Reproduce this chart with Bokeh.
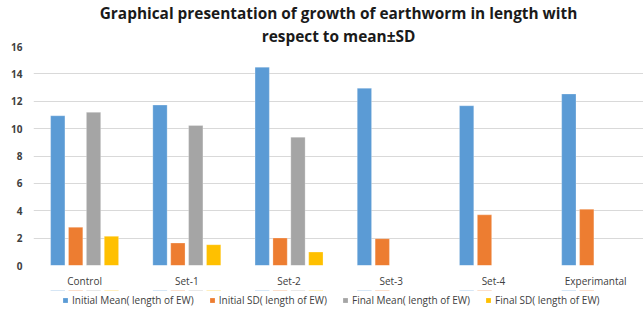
from bokeh.plotting import figure
from bokeh.layouts import column
from bokeh.models import ColumnDataSource, Legend, LegendItem, SingleIntervalTicker, FixedTicker, Title
from bokeh.transform import dodge
from bokeh.embed import file_html
from bokeh.resources import INLINE

categories = ["Control", "Set-1", "Set-2", "Set-3", "Set-4", "Experimantal"]
initial_mean = [10.94, 11.72, 14.49, 12.95, 11.67, 12.53]
initial_sd = [2.79, 1.64, 2.01, 1.96, 3.70, 4.11]
final_mean = [11.19, 10.23, 9.37, float("nan"), float("nan"), float("nan")]
final_sd = [2.13, 1.52, 0.98, float("nan"), float("nan"), float("nan")]
series_names = ["Initial Mean( length of EW)", "Initial SD( length of EW)",
                "Final Mean( length of EW)", "Final SD( length of EW)"]
colors = ["#5B9BD5", "#ED7D31", "#A5A5A5", "#FFC000"]
title_lines = ["Graphical presentation of growth of earthworm in length with",
               "respect to mean±SD"]

idx = list(range(len(categories)))
src = ColumnDataSource(dict(x=idx, cat=categories, im=initial_mean, isd=initial_sd,
                            fm=final_mean, fsd=final_sd))

FONT = "Open Sans"
p = figure(width=643, height=290, x_range=(-0.5, 5.468), y_range=(0, 16),
           output_backend="svg", toolbar_location=None,
           min_border_left=33, min_border_right=0, min_border_top=0, min_border_bottom=24)
p.title = None
for i, line in enumerate(reversed(title_lines)):
    t = Title(text=line, align="center", text_font=FONT, text_font_size="15.4px",
              text_font_style="bold", text_color="#1a1a1a", standoff=0)
    p.add_layout(t, "above")

p.outline_line_color = None

cols = ["im", "isd", "fm", "fsd"]
offsets = [-0.2625, -0.0875, 0.0875, 0.2625]
for c, off, col in zip(cols, offsets, colors):
    p.vbar(x=dodge("x", off), top=c, width=0.14, source=src,
           fill_color=col, line_color="white", line_alpha=0.5, line_width=0.5)

p.yaxis.ticker = SingleIntervalTicker(interval=2)
p.yaxis.axis_line_color = None
p.yaxis.major_tick_line_color = None
p.yaxis.minor_tick_line_color = None
p.yaxis.major_tick_out = 0
p.yaxis.major_tick_in = 0
p.yaxis.major_label_text_font = FONT
p.yaxis.major_label_text_font_size = "10px"
p.yaxis.major_label_text_font_style = "bold"
p.yaxis.major_label_text_color = "#404040"
p.yaxis.major_label_standoff = 7

p.xaxis.ticker = FixedTicker(ticks=idx)
p.xaxis.major_label_overrides = {i: c for i, c in zip(idx, categories)}
p.xaxis.axis_line_color = None
p.xaxis.major_tick_line_color = None
p.xaxis.minor_tick_line_color = None
p.xaxis.major_tick_out = 0
p.xaxis.major_tick_in = 0
p.xaxis.major_label_text_font = FONT
p.xaxis.major_label_text_font_size = "10px"
p.xaxis.major_label_text_color = "#404040"
p.xaxis.major_label_standoff = 8

p.xgrid.grid_line_color = None
p.ygrid.grid_line_color = "#D9D9D9"
p.ygrid.grid_line_width = 1.2

# legend strip below the chart (its bars fall outside its own range, only the legend shows)
lg = figure(width=643, height=22, x_range=(-0.5, 5.468), y_range=(-3, -2),
            output_backend="svg", toolbar_location=None,
            min_border_left=0, min_border_right=0, min_border_top=0, min_border_bottom=0)
lg.title = None
lg.axis.visible = False
lg.grid.visible = False
lg.outline_line_color = None
items = []
for c, off, col, name in zip(cols, offsets, colors, series_names):
    r = lg.vbar(x=dodge("x", off), top=c, width=0.14, source=src,
                fill_color=col, line_color=None)
    items.append(LegendItem(label=name, renderers=[r]))
legend = Legend(items=items, orientation="horizontal", location=(29, 5),
                label_text_font=FONT, label_text_font_size="10px", label_text_color="#404040",
                glyph_width=6, glyph_height=6, spacing=15, padding=0, margin=0,
                label_standoff=4, border_line_color=None, background_fill_alpha=0)
lg.add_layout(legend, "center")

layout = column(p, lg, spacing=0)
open("out.html", "w").write(file_html(layout, INLINE))
